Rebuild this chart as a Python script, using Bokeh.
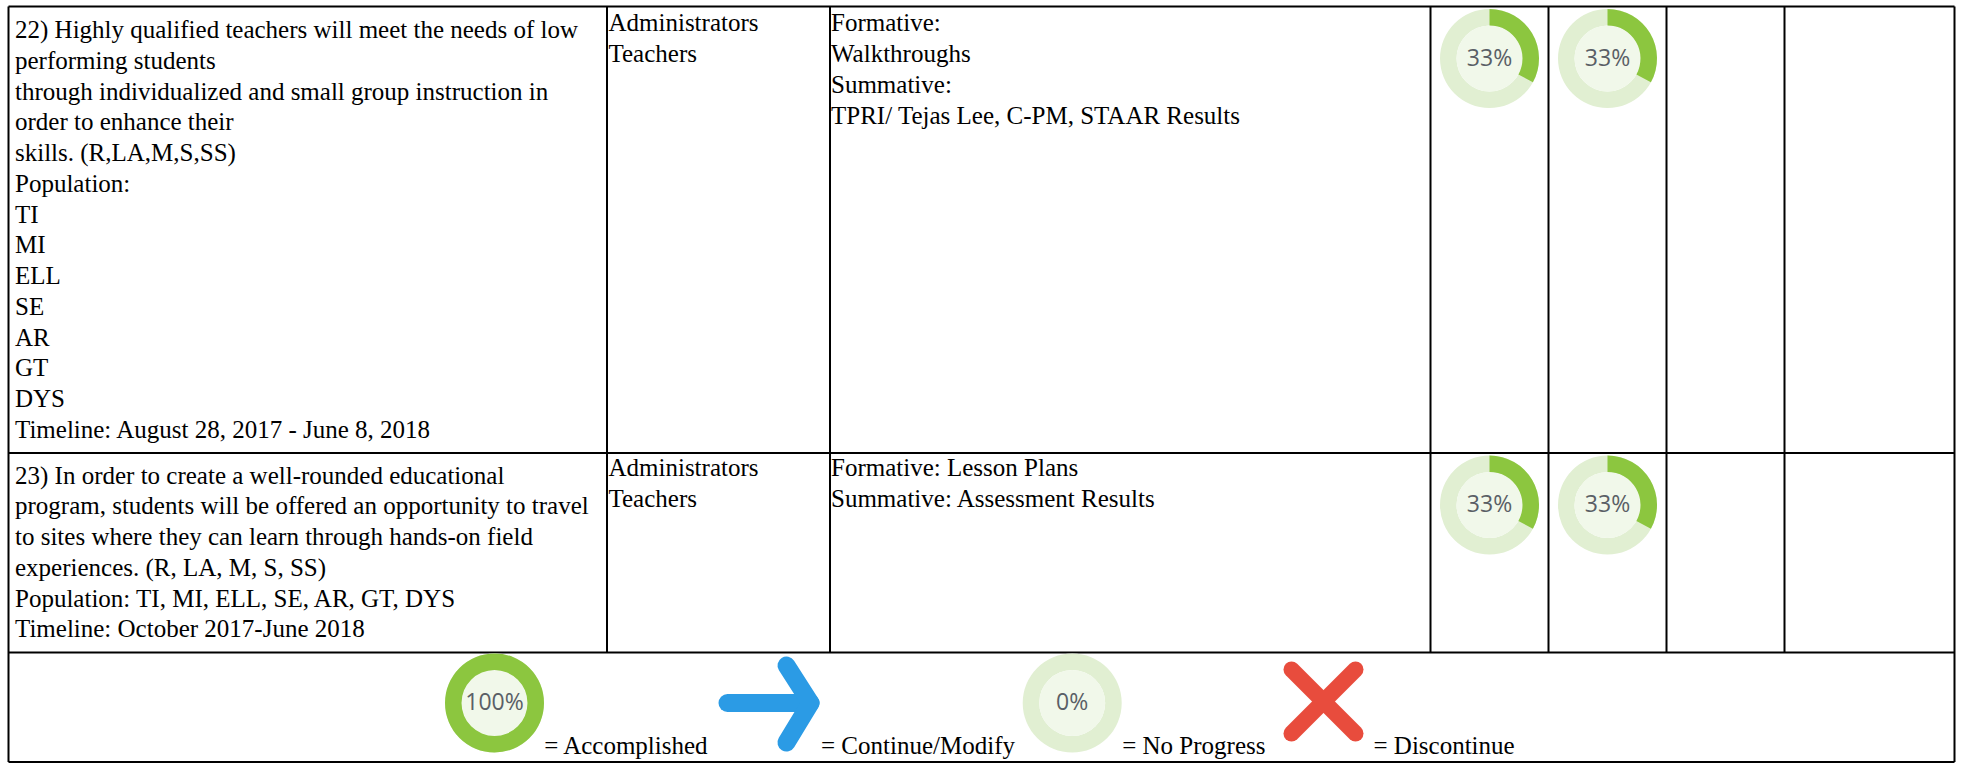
from bokeh.plotting import figure
from bokeh.models import Range1d
from bokeh.core.properties import value
from bokeh.embed import file_html
from bokeh.resources import INLINE
import math

# ---- content ----
row1_col1 = ["22) Highly qualified teachers will meet the needs of low", "performing students",
             "through individualized and small group instruction in", "order to enhance their",
             "skills. (R,LA,M,S,SS)", "Population:", "TI", "MI", "ELL", "SE", "AR", "GT", "DYS",
             "Timeline: August 28, 2017 - June 8, 2018"]
row2_col1 = ["23) In order to create a well-rounded educational",
             "program, students will be offered an opportunity to travel",
             "to sites where they can learn through hands-on field",
             "experiences. (R, LA, M, S, SS)", "Population: TI, MI, ELL, SE, AR, GT, DYS",
             "Timeline: October 2017-June 2018"]
col2 = ["Administrators", "Teachers"]
row1_col3 = ["Formative:", "Walkthroughs", "Summative:", "TPRI/ Tejas Lee, C-PM, STAAR Results"]
row2_col3 = ["Formative: Lesson Plans", "Summative: Assessment Results"]
row1_progress = [33, 33]
row2_progress = [33, 33]
legend_progress = [100, 0]
legend_labels = ["= Accomplished", "= Continue/Modify", "= No Progress", "= Discontinue"]

# ---- layout (page pixels) ----
W, H = 1963, 764
COLS = [8, 606.5, 829.5, 1430, 1548, 1666, 1784, 1954]
ROWS = [6, 452.5, 652, 761.5]
PITCH = 30.75
FONT = "25px"
TEXT_SHIFT = -6.5
GREEN, TRACK, INNER, INK = "#8cc63f", "#e1efd2", "#f1f8ea", "#5a5f66"

p = figure(width=W, height=H, x_range=Range1d(0, W), y_range=Range1d(H, 0),
           output_backend="svg", toolbar_location=None, min_border=0,
           margin=(0, 0, 0, 0), outline_line_color=None,
           x_axis_location=None, y_axis_location=None)
p.grid.visible = False
p.background_fill_color = "white"
p.border_fill_color = "white"

# table rules
p.multi_line([[COLS[0], COLS[-1]] for _ in ROWS], [[y, y] for y in ROWS], line_color="#000000", line_width=2)
p.multi_line([[x, x] for x in COLS[1:-1]], [[ROWS[0], ROWS[2]] for _ in COLS[1:-1]], line_color="#000000", line_width=2)
p.multi_line([[x, x] for x in (COLS[0], COLS[-1])], [[ROWS[0], ROWS[-1]]] * 2, line_color="#000000", line_width=2)

def block(lines, x, y0, pitch=PITCH):
    p.text([x] * len(lines), [y0 + i * pitch for i in range(len(lines))], text=lines,
           text_font=value("Liberation Serif"), text_font_size=FONT, text_color="#000000",
           text_baseline="alphabetic", text_align="left", y_offset=TEXT_SHIFT)

block(row1_col1, COLS[0] + 6.5, ROWS[0] + 29.5)
block(row2_col1, COLS[0] + 6.5, ROWS[1] + 28.5)
block(col2, COLS[1] + 1.5, ROWS[0] + 22.75)
block(col2, COLS[1] + 1.5, ROWS[1] + 21)
block(row1_col3, COLS[2] + 1, ROWS[0] + 22.75)
block(row2_col3, COLS[2] + 1, ROWS[1] + 21)

def donut(cx, cy, pct, size="23px"):
    p.annular_wedge([cx], [cy], inner_radius=33, outer_radius=49.5, start_angle=0, end_angle=2 * math.pi,
                    fill_color=TRACK, line_color=None)
    p.scatter([cx], [cy], size=66, marker="circle", fill_color=INNER, line_color=None)
    if pct > 0:
        a0, a1 = math.pi / 2, math.pi / 2 - 2 * math.pi * pct / 100
        if pct >= 100:
            a0, a1 = 0, 2 * math.pi
        p.annular_wedge([cx], [cy], inner_radius=33, outer_radius=49.5, start_angle=a0, end_angle=a1,
                        direction="clock", fill_color=GREEN, line_color=None)
    p.text([cx], [cy], text=[f"{pct}%"], text_font=value("Open Sans"), text_font_size=size, text_color=INK,
           text_align="center", text_baseline="middle", y_offset=-2)

for i, v in enumerate(row1_progress):
    donut((COLS[3 + i] + COLS[4 + i]) / 2, ROWS[0] + 52, v)
for i, v in enumerate(row2_progress):
    donut((COLS[3 + i] + COLS[4 + i]) / 2, ROWS[1] + 52, v)

# legend strip
LEG_Y = 702.5
donut(494, LEG_Y, legend_progress[0])
donut(1071.7, LEG_Y, legend_progress[1])
# arrow
p.multi_line([[727, 810], [786, 810, 786]], [[LEG_Y, LEG_Y], [665, LEG_Y, 742]],
             line_color="#2b9be5", line_width=18, line_cap="round", line_join="round")
# cross
p.multi_line([[1291, 1355], [1355, 1291]], [[669, 733], [669, 733]],
             line_color="#e84c3d", line_width=16, line_cap="round")

label_x = [543.7, 820.5, 1121.7, 1373]
p.text(label_x, [751.5] * 4, text=legend_labels, text_font=value("Liberation Serif"), text_font_size=FONT,
       text_color="#000000", text_baseline="alphabetic", text_align="left", y_offset=TEXT_SHIFT)

open("out.html", "w").write(file_html(p, INLINE))
